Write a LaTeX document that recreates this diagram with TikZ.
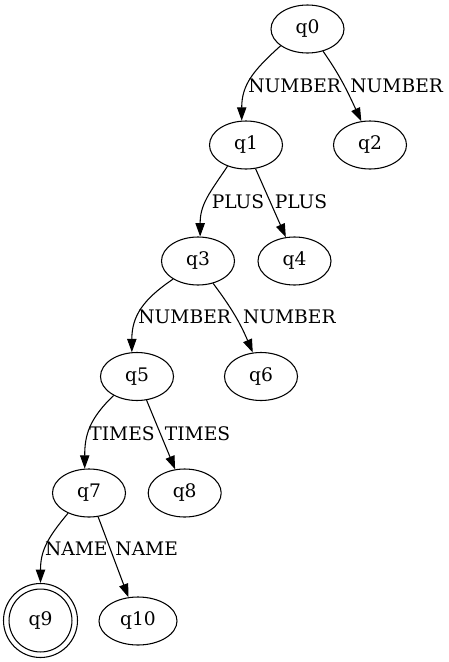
\documentclass[tikz,border=0pt]{standalone}
\usepackage{fontspec}
\setmainfont{DejaVu Serif}
\usetikzlibrary{arrows.meta,shapes.geometric}
\begin{document}
\begin{tikzpicture}[x=0.75pt,y=-0.75pt,
  st/.style={ellipse,draw,line width=0.8pt,minimum width=54.75pt,minimum height=36pt,inner sep=0pt,font=\fontsize{14}{16}\selectfont},
  acc/.style={circle,draw,line width=0.8pt,minimum size=55.5pt,inner sep=0pt,font=\fontsize{14}{16}\selectfont,
    path picture={\draw[line width=0.8pt] (path picture bounding box.center) circle[radius=23.6pt];}},
  lbl/.style={inner sep=0pt,font=\fontsize{14}{16}\selectfont},
  edge/.style={line width=0.8pt,-{Triangle[length=10pt,width=7pt]}}]
\fill[white] (0,0) rectangle (449,662);
\useasboundingbox (0,0) rectangle (449,662);
\node[st] (q0) at (307.5,29) {q0};
\node[st] (q1) at (246,145) {q1};
\node[st] (q2) at (370,145) {q2};
\node[st] (q3) at (198,261) {q3};
\node[st] (q4) at (294.5,261) {q4};
\node[st] (q5) at (137,376.5) {q5};
\node[st] (q6) at (261,376.5) {q6};
\node[st] (q7) at (89,493) {q7};
\node[st] (q8) at (184.7,493) {q8};
\node[acc] (q9) at (40.5,620.5) {q9};
\node[st,minimum width=58.5pt] (q10) at (138,621) {q10};
\draw[edge] (q0.212) to[out=222,in=90,looseness=1.1] (q1.100);
\draw[edge] (q0.305) to[out=-55,in=115] (q2.110);
\draw[edge] (q1.229) to[out=236,in=90,looseness=1.1] (q3.85);
\draw[edge] (q1.292) -- (q4.110);
\draw[edge] (q3.216) to[out=214,in=90,looseness=1.1] (q5.102);
\draw[edge] (q3.304) to[out=-53,in=113] (q6.109);
\draw[edge] (q5.219) to[out=224,in=90,looseness=1.1] (q7.100);
\draw[edge] (q5.292) -- (q8.112);
\draw[edge] (q7.224) to[out=230,in=90,looseness=1.1] (q9.90);
\draw[edge] (q7.291) -- (q10.112);
\node[lbl] (l01) at (294.7,86) {NUMBER};
\node[lbl] (l02) at (396.7,86) {NUMBER};
\node[lbl] (l13) at (238,201.7) {PLUS};
\node[lbl] (l14) at (301,201.7) {PLUS};
\node[lbl] (l35) at (184.7,317.3) {NUMBER};
\node[lbl] (l36) at (289.3,317.3) {NUMBER};
\node[lbl] (l57) at (122,433.3) {TIMES};
\node[lbl] (l58) at (197.5,433.3) {TIMES};
\node[lbl] (l79) at (76.3,549) {NAME};
\node[lbl] (l710) at (146.7,549) {NAME};
\end{tikzpicture}
\end{document}
